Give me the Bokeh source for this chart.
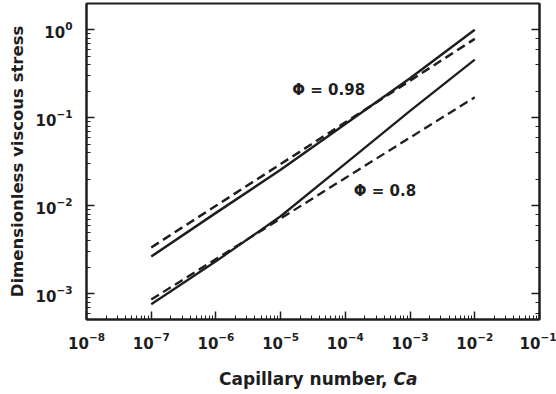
from bokeh.plotting import figure
from bokeh.models import LogAxis, Label, Range1d
from bokeh.embed import file_html
from bokeh.resources import INLINE

# Capillary number (decade points)
ca = [1e-7, 1e-6, 1e-5, 1e-4, 1e-3, 1e-2]

# Dimensionless viscous stress: model (solid) and power-law fit (dashed)
model_phi_098 = [2.65e-3, 8.3e-3, 2.57e-2, 8.5e-2, 0.282, 1.0]
fit_phi_098 = [3.36e-3, 1.0e-2, 2.98e-2, 8.87e-2, 0.264, 0.789]
model_phi_080 = [7.6e-4, 2.34e-3, 7.6e-3, 3.02e-2, 0.120, 0.457]
fit_phi_080 = [8.6e-4, 2.48e-3, 7.16e-3, 2.07e-2, 5.96e-2, 0.171]

INK = "#1e1e1e"
FONT = "DejaVu Sans"

p = figure(
    width=556, height=394,
    x_axis_type="log", y_axis_type="log",
    x_range=Range1d(0.999e-8, 1.001e-1),
    y_range=Range1d(5.1e-4, 1.99),
    tools="", toolbar_location=None,
    output_backend="svg",
    min_border_left=86, min_border_right=17,
    min_border_top=3, min_border_bottom=75,
    background_fill_color="white", border_fill_color="white",
)
p.xgrid.visible = False
p.ygrid.visible = False
p.outline_line_color = INK
p.outline_line_width = 2

right_axis = LogAxis()
p.add_layout(right_axis, "right")

for ax in [p.xaxis[0], p.yaxis[0], right_axis]:
    ax.axis_line_color = INK
    ax.axis_line_width = 2
    ax.major_tick_line_color = INK
    ax.minor_tick_line_color = INK
    ax.major_tick_line_width = 1.5
    ax.minor_tick_line_width = 1
    ax.major_tick_in = 8
    ax.major_tick_out = 0
    ax.minor_tick_in = 4
    ax.minor_tick_out = 0
    ax.major_label_text_font = FONT
    ax.major_label_text_font_style = "bold"
    ax.major_label_text_font_size = "15px"
    ax.major_label_text_color = INK

p.xaxis[0].major_label_standoff = 12
p.yaxis[0].major_label_standoff = 14
# right axis carries ticks only
right_axis.major_label_text_font_size = "1px"
right_axis.major_label_text_alpha = 0
right_axis.major_label_standoff = 0

# y-axis title
p.yaxis[0].axis_label = "Dimensionless viscous stress"
p.yaxis[0].axis_label_text_font = FONT
p.yaxis[0].axis_label_text_font_style = "bold"
p.yaxis[0].axis_label_text_font_size = "16.5px"
p.yaxis[0].axis_label_text_color = INK
p.yaxis[0].axis_label_standoff = 6

dash = "9 5"
p.line(ca, model_phi_098, line_color=INK, line_width=2.5)
p.line(ca, fit_phi_098, line_color=INK, line_width=2.5, line_dash=dash)
p.line(ca, model_phi_080, line_color=INK, line_width=2.3)
p.line(ca, fit_phi_080, line_color=INK, line_width=2.3, line_dash=dash)

# Curve annotations
for x, y, txt in [(10 ** -4.82, 10 ** -0.68, "\u03a6 = 0.98"),
                  (10 ** -3.87, 10 ** -1.836, "\u03a6 = 0.8")]:
    p.add_layout(Label(x=x, y=y, text=txt, text_font=FONT,
                       text_font_style="bold", text_font_size="15px",
                       text_color=INK, text_align="left",
                       text_baseline="alphabetic"))

# x-axis title, with the symbol Ca in italics (each label sits in its own
# stacked side panel, so the second one is lifted back onto the same line)
p.add_layout(Label(x=301, y=-7, x_units="screen", y_units="screen",
                   text="Capillary number,", text_font=FONT,
                   text_font_style="bold", text_font_size="17px",
                   text_color=INK, text_align="right",
                   text_baseline="alphabetic"), "below")
p.add_layout(Label(x=307, y=13, x_units="screen", y_units="screen",
                   text="Ca", text_font=FONT,
                   text_font_style="bold italic", text_font_size="17px",
                   text_color=INK, text_align="left",
                   text_baseline="alphabetic"), "below")

open("out.html", "w").write(file_html(p, INLINE))
